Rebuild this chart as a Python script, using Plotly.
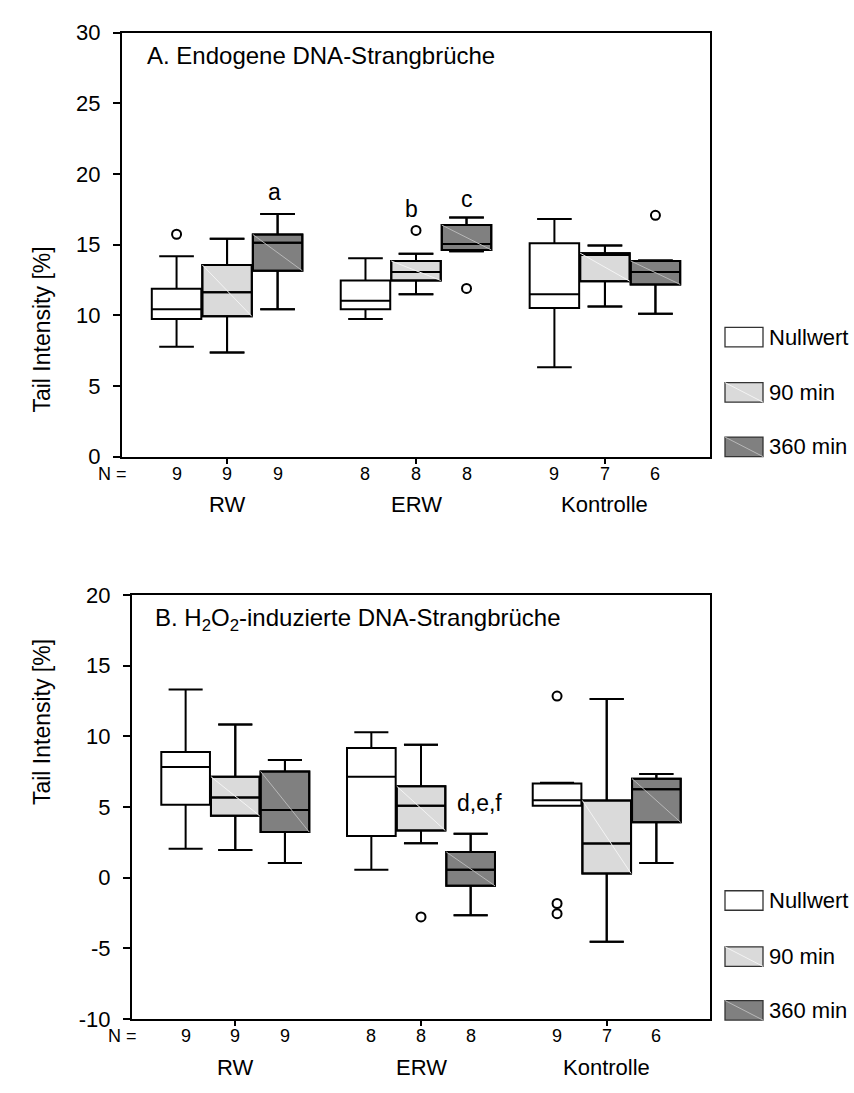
import plotly.graph_objects as go

W, H = 854, 1093
FONT = "Arial, Liberation Sans, sans-serif"

# ---- data -------------------------------------------------------------
groups = ["RW", "ERW", "Kontrolle"]
series = ["Nullwert", "90 min", "360 min"]

# number of samples per group (RW, ERW, Kontrolle) for each series
n_counts = {
    "Nullwert": [9, 8, 9],
    "90 min": [9, 8, 7],
    "360 min": [9, 8, 6],
}

# A. endogenous strand breaks: box statistics per series (RW, ERW, Kontrolle)
a_lower = {"Nullwert": [7.77, 9.74, 6.32], "90 min": [7.36, 11.49, 10.61], "360 min": [10.43, 14.53, 10.10]}
a_q1 = {"Nullwert": [9.74, 10.43, 10.52], "90 min": [9.92, 12.46, 12.41], "360 min": [13.15, 14.62, 12.18]}
a_median = {"Nullwert": [10.43, 11.02, 11.49], "90 min": [11.63, 13.06, 14.26], "360 min": [15.13, 15.04, 13.06]}
a_q3 = {"Nullwert": [11.88, 12.46, 15.10], "90 min": [13.56, 13.84, 14.39], "360 min": [15.71, 16.38, 13.84]}
a_upper = {"Nullwert": [14.17, 14.03, 16.80], "90 min": [15.41, 14.35, 14.93], "360 min": [17.16, 16.91, 13.88]}
# outliers: (group, series, value)
a_outliers = [("RW", "Nullwert", 15.73), ("ERW", "90 min", 16.0),
              ("ERW", "360 min", 11.9), ("Kontrolle", "360 min", 17.07)]
# significance letters: (text, group, series, y, horizontal nudge)
a_letters = [("a", "RW", "360 min", 18.7, -3), ("b", "ERW", "90 min", 17.5, -5),
             ("c", "ERW", "360 min", 18.2, 0)]

# B. H2O2-induced strand breaks
b_lower = {"Nullwert": [2.05, 0.57, 5.10], "90 min": [1.96, 2.44, -4.52], "360 min": [1.04, -2.65, 1.04]}
b_q1 = {"Nullwert": [5.17, 2.95, 5.10], "90 min": [4.38, 3.34, 0.30], "360 min": [3.23, -0.57, 3.92]}
b_median = {"Nullwert": [7.84, 7.15, 5.48], "90 min": [5.67, 5.10, 2.42], "360 min": [4.80, 0.57, 6.27]}
b_q3 = {"Nullwert": [8.90, 9.18, 6.66], "90 min": [7.15, 6.48, 5.47], "360 min": [7.52, 1.82, 7.01]}
b_upper = {"Nullwert": [13.31, 10.29, 6.73], "90 min": [10.84, 9.41, 12.64], "360 min": [8.33, 3.11, 7.34]}
b_outliers = [("ERW", "90 min", -2.77), ("Kontrolle", "Nullwert", 12.85),
              ("Kontrolle", "Nullwert", -1.82), ("Kontrolle", "Nullwert", -2.54)]
b_letters = [("d,e,f", "ERW", "360 min", 5.3, 9)]

y_ticks_a = [0, 5, 10, 15, 20, 25, 30]
y_ticks_b = [-10, -5, 0, 5, 10, 15, 20]

# ---- styling ----------------------------------------------------------
fills = {"Nullwert": "#ffffff", "90 min": "#dadada", "360 min": "#808080"}
diag_colors = {"Nullwert": None, "90 min": "#f4f4f4", "360 min": "#b8b8b8"}
group_pos = [0.0, 3.74, 7.48]
offsets = {"Nullwert": -1.0, "90 min": 0.0, "360 min": 1.0}
BOX_W = 0.98
X_RANGE = [-2.08, 9.56]


def pxx(v):
    return v / W


def pxy(v):
    return 1 - v / H


def box_x(group, s):
    return group_pos[groups.index(group)] + offsets[s]


panels = [
    dict(lower=a_lower, q1=a_q1, med=a_median, q3=a_q3, upper=a_upper,
         outliers=a_outliers, letters=a_letters, ticks=y_ticks_a,
         xa="x", ya="y", xdom=(122, 710), ydom=(21, 455),
         title="A. Endogene DNA-Strangbrüche", title_xy=(145, 45),
         n_y=472.5, g_y=504, legend_top=[322.7, 379.3, 435.0]),
    dict(lower=b_lower, q1=b_q1, med=b_median, q3=b_q3, upper=b_upper,
         outliers=b_outliers, letters=b_letters, ticks=y_ticks_b,
         xa="x2", ya="y2", xdom=(132, 710), ydom=(596.7, 1030.7),
         title="B. H<sub>2</sub>O<sub>2</sub>-induzierte DNA-Strangbrüche",
         title_xy=(153, 622),
         n_y=1048, g_y=1080, legend_top=[899.3, 956.7, 1011.7]),
]

fig = go.Figure()
annotations = []
shapes = []

for p in panels:
    for s in series:
        xs = [g + offsets[s] for g in group_pos]
        common = dict(x=xs, q1=p["q1"][s], median=p["med"][s], q3=p["q3"][s],
                      lowerfence=p["lower"][s], upperfence=p["upper"][s],
                      width=BOX_W, whiskerwidth=0.7, boxpoints=False,
                      xaxis=p["xa"], yaxis=p["ya"], showlegend=False,
                      hoverinfo="skip")
        fig.add_trace(go.Box(name=s, fillcolor=fills[s],
                             line=dict(color="black", width=2), **common))
        if diag_colors[s]:
            dx, dy = [], []
            for x, top, bot in zip(xs, p["q3"][s], p["q1"][s]):
                dx += [x - BOX_W / 2, x + BOX_W / 2, None]
                dy += [top, bot, None]
            fig.add_trace(go.Scatter(x=dx, y=dy, mode="lines",
                                     line=dict(color=diag_colors[s], width=1),
                                     xaxis=p["xa"], yaxis=p["ya"],
                                     showlegend=False, hoverinfo="skip"))
            # redraw outlines above the diagonal
            fig.add_trace(go.Box(name=s, fillcolor="rgba(0,0,0,0)",
                                 line=dict(color="black", width=2), **common))

    ox = [box_x(g, s) for g, s, v in p["outliers"]]
    oy = [v for g, s, v in p["outliers"]]
    fig.add_trace(go.Scatter(x=ox, y=oy, mode="markers",
                             marker=dict(symbol="circle-open", size=9,
                                         color="black", line=dict(width=2)),
                             xaxis=p["xa"], yaxis=p["ya"],
                             showlegend=False, hoverinfo="skip"))

    for text, g, s, yv, shift in p["letters"]:
        annotations.append(dict(text=text, x=box_x(g, s), y=yv, xref=p["xa"],
                                yref=p["ya"], showarrow=False, xshift=shift,
                                font=dict(size=23, color="black", family=FONT)))

    # panel title
    annotations.append(dict(text=p["title"], x=pxx(p["title_xy"][0]),
                            y=pxy(p["title_xy"][1]), xref="paper", yref="paper",
                            xanchor="left", yanchor="middle", showarrow=False,
                            font=dict(size=24, color="black", family=FONT)))
    # y-axis title
    annotations.append(dict(text="Tail Intensity [%]", x=pxx(27),
                            y=pxy((p["ydom"][0] + p["ydom"][1]) / 2),
                            xref="paper", yref="paper", textangle=-90,
                            showarrow=False,
                            font=dict(size=23, color="black", family=FONT)))
    # sample counts
    annotations.append(dict(text="N =", x=pxx(p["xdom"][0] + 7), y=pxy(p["n_y"]),
                            xref="paper", yref="paper", xanchor="right",
                            yanchor="middle", showarrow=False,
                            font=dict(size=18, color="black", family=FONT)))
    for s in series:
        for gi, g in enumerate(groups):
            annotations.append(dict(text=str(n_counts[s][gi]), x=box_x(g, s),
                                    y=pxy(p["n_y"]), xref=p["xa"], yref="paper",
                                    yanchor="middle", showarrow=False,
                                    font=dict(size=18, color="black", family=FONT)))
    for gi, g in enumerate(groups):
        annotations.append(dict(text=g, x=group_pos[gi], y=pxy(p["g_y"]),
                                xref=p["xa"], yref="paper", yanchor="middle",
                                showarrow=False,
                                font=dict(size=22, color="black", family=FONT)))

    # legend patches
    for s, top in zip(series, p["legend_top"]):
        x0, x1, y0, y1 = pxx(725), pxx(763), pxy(top + 20), pxy(top)
        shapes.append(dict(type="rect", xref="paper", yref="paper",
                           x0=x0, x1=x1, y0=y0, y1=y1, fillcolor=fills[s],
                           line=dict(color="#333333", width=1.3)))
        if diag_colors[s]:
            shapes.append(dict(type="line", xref="paper", yref="paper",
                               x0=x0, x1=x1, y0=y1, y1=y0,
                               line=dict(color=diag_colors[s], width=1)))
        annotations.append(dict(text=s, x=pxx(767), y=pxy(top + 10),
                                xref="paper", yref="paper", xanchor="left",
                                yanchor="middle", showarrow=False,
                                font=dict(size=22, color="black", family=FONT)))


def xaxis_cfg(p):
    return dict(domain=[pxx(p["xdom"][0]), pxx(p["xdom"][1])], range=X_RANGE,
                anchor=p["ya"], showline=True, linecolor="black", linewidth=2,
                mirror=True, ticks="outside", tickvals=group_pos, ticklen=5,
                tickwidth=1.5, tickcolor="black", showticklabels=False,
                showgrid=False, zeroline=False, fixedrange=True)


def yaxis_cfg(p):
    t = p["ticks"]
    return dict(domain=[pxy(p["ydom"][1]), pxy(p["ydom"][0])],
                range=[t[0], t[-1]], anchor=p["xa"], tickvals=t,
                ticktext=[str(v) for v in t],
                showline=True, linecolor="black", linewidth=2, mirror=True,
                ticks="outside", ticklen=7, tickwidth=1.5, tickcolor="black",
                ticklabelstandoff=8,
                tickfont=dict(size=22, color="black", family=FONT),
                showgrid=False, zeroline=False, fixedrange=True)


fig.update_layout(
    width=W, height=H, margin=dict(l=0, r=0, t=0, b=0),
    paper_bgcolor="white", plot_bgcolor="white",
    boxmode="overlay", showlegend=False,
    font=dict(family=FONT, color="black"),
    xaxis=xaxis_cfg(panels[0]), yaxis=yaxis_cfg(panels[0]),
    xaxis2=xaxis_cfg(panels[1]), yaxis2=yaxis_cfg(panels[1]),
    annotations=annotations, shapes=shapes,
)

fig.write_html("out.html")
